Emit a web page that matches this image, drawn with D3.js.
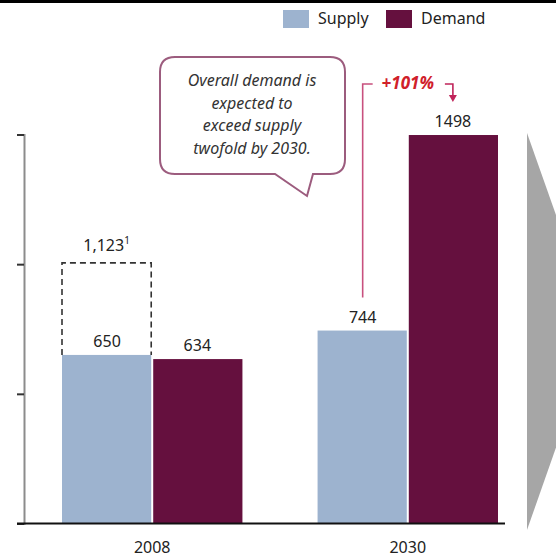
<!DOCTYPE html>
<html>
<head>
<meta charset="utf-8">
<script src="https://cdn.jsdelivr.net/npm/d3@7"></script>
<style>
  body { margin: 0; background: #fff; }
  svg { display: block; font-family: "Noto Sans", sans-serif; }
</style>
</head>
<body>
<div id="chart"></div>
<script>
// values
var years = ["2008", "2030"];
var series = ["Supply", "Demand"];
var supply = [650, 744];
var demand = [634, 1498];
var yTicks = [0, 500, 1000, 1500];
var gapLabel = "1,123";     // dashed box label for 2008
var gapDrawn = 1005;        // height the dashed box is actually drawn to
var growthLabel = "+101%";
var calloutLines = ["Overall demand is", "expected to", "exceed supply", "twofold by 2030."];

var colors = { Supply: "#9db3cf", Demand: "#65103e" };

var width = 556, height = 559;

var svg = d3.select("#chart").append("svg")
    .attr("width", width)
    .attr("height", height);

// black strip on top
svg.append("rect").attr("x", 0).attr("y", 0).attr("width", width).attr("height", 3).attr("fill", "#000");

var x = d3.scaleBand().domain(years).range([62, 498]).paddingInner(0.294).paddingOuter(0);
var xs = d3.scaleBand().domain(series).range([0, x.bandwidth()]);
var y = d3.scaleLinear().domain([0, 1500]).range([523.5, 134.5]);

var rows = years.map(function (yr, i) {
    return { year: yr, Supply: supply[i], Demand: demand[i] };
});

// gray chevron on the right
svg.append("path")
    .attr("d", "M527,133 L597,331 L527,530 Z")
    .attr("fill", "#a6a6a6");

// bars
var groups = svg.append("g").selectAll("g")
    .data(rows)
    .enter().append("g")
    .attr("transform", function (d) { return "translate(" + x(d.year) + ",0)"; });

groups.selectAll("rect")
    .data(function (d) { return series.map(function (s) { return { key: s, value: d[s] }; }); })
    .enter().append("rect")
    .attr("x", function (d) { return xs(d.key) + (d.key == "Demand" ? 1 : 0); })
    .attr("y", function (d) { return y(d.value); })
    .attr("width", xs.bandwidth() - 1)
    .attr("height", function (d) { return y(0) - y(d.value); })
    .attr("fill", function (d) { return colors[d.key]; });

groups.selectAll("text.val")
    .data(function (d) { return series.map(function (s) { return { key: s, value: d[s] }; }); })
    .enter().append("text")
    .attr("class", "val")
    .attr("x", function (d) { return xs(d.key) + xs.bandwidth() / 2; })
    .attr("y", function (d) { return y(d.value) - 8; })
    .attr("text-anchor", "middle")
    .attr("font-size", 16)
    .attr("fill", "#222")
    .text(function (d) { return d.value; });

// y axis (no labels)
var yAxis = d3.axisLeft(y).tickValues(yTicks).tickSize(7).tickFormat("");
var ya = svg.append("g").attr("transform", "translate(24,0)").call(yAxis);
ya.select(".domain").attr("stroke", "#8c8c8c").attr("stroke-width", 2);
ya.selectAll(".tick line").attr("stroke", "#333").attr("stroke-width", 2);

// baseline
svg.append("line")
    .attr("x1", 17).attr("x2", 505)
    .attr("y1", y(0)).attr("y2", y(0))
    .attr("stroke", "#111").attr("stroke-width", 2);

// x labels
svg.append("g").selectAll("text")
    .data(years)
    .enter().append("text")
    .attr("x", function (d) { return x(d) + x.bandwidth() / 2; })
    .attr("y", 553)
    .attr("text-anchor", "middle")
    .attr("font-size", 16)
    .attr("fill", "#222")
    .text(function (d) { return d; });

// dashed box above 2008 supply
var bx0 = x("2008") + xs("Supply"), bx1 = bx0 + xs.bandwidth() - 1;
svg.append("path")
    .attr("d", "M" + bx0 + "," + y(supply[0]) + " V" + y(gapDrawn) + " H" + bx1 + " V" + y(supply[0]))
    .attr("fill", "none")
    .attr("stroke", "#333")
    .attr("stroke-width", 1.6)
    .attr("stroke-dasharray", "6,4");

var gl = svg.append("text")
    .attr("x", (bx0 + bx1) / 2)
    .attr("y", y(gapDrawn) - 12)
    .attr("text-anchor", "middle")
    .attr("font-size", 16)
    .attr("fill", "#222");
gl.append("tspan").text(gapLabel);
gl.append("tspan").attr("font-size", 10).attr("dy", -7).text("1");

// legend
var legend = svg.append("g").selectAll("g")
    .data(series)
    .enter().append("g")
    .attr("transform", function (d, i) { return "translate(" + (283 + i * 103) + ",10)"; });
legend.append("rect").attr("width", 26).attr("height", 18)
    .attr("fill", function (d) { return colors[d]; });
legend.append("text").attr("x", 35).attr("y", 14)
    .attr("font-size", 16).attr("fill", "#222")
    .text(function (d) { return d; });

// callout bubble
svg.append("path")
    .attr("d", "M175,57 H330 Q345,57 345,72 V159 Q345,174 330,174 H313 L307,196 L275,174 H175 Q160,174 160,159 V72 Q160,57 175,57 Z")
    .attr("fill", "#fff")
    .attr("stroke", "#9c5c7e")
    .attr("stroke-width", 2);

svg.append("g").selectAll("text")
    .data(calloutLines)
    .enter().append("text")
    .attr("x", 252)
    .attr("y", function (d, i) { return 86 + i * 22.5; })
    .attr("text-anchor", "middle")
    .attr("font-size", 16)
    .attr("font-style", "italic")
    .attr("fill", "#333")
    .text(function (d) { return d; });

// growth bracket
var sx = x("2030") + xs("Supply") + xs.bandwidth() / 2;
var dx = x("2030") + xs("Demand") + xs.bandwidth() / 2;
svg.append("path")
    .attr("d", "M" + sx + "," + (y(supply[1]) - 33) + " V84 H" + (sx + 10))
    .attr("fill", "none").attr("stroke", "#c8507e").attr("stroke-width", 1.6);
svg.append("path")
    .attr("d", "M" + (dx - 8) + ",84 H" + dx + " V96")
    .attr("fill", "none").attr("stroke", "#c0245a").attr("stroke-width", 1.6);
svg.append("path")
    .attr("d", "M" + (dx - 4) + ",95 L" + (dx + 4) + ",95 L" + dx + ",102 Z")
    .attr("fill", "#c0245a");
svg.append("text")
    .attr("x", (sx + dx) / 2)
    .attr("y", 89)
    .attr("text-anchor", "middle")
    .attr("font-size", 17)
    .attr("font-weight", "bold")
    .attr("font-style", "italic")
    .attr("fill", "#d0202a")
    .text(growthLabel);
</script>
</body>
</html>
